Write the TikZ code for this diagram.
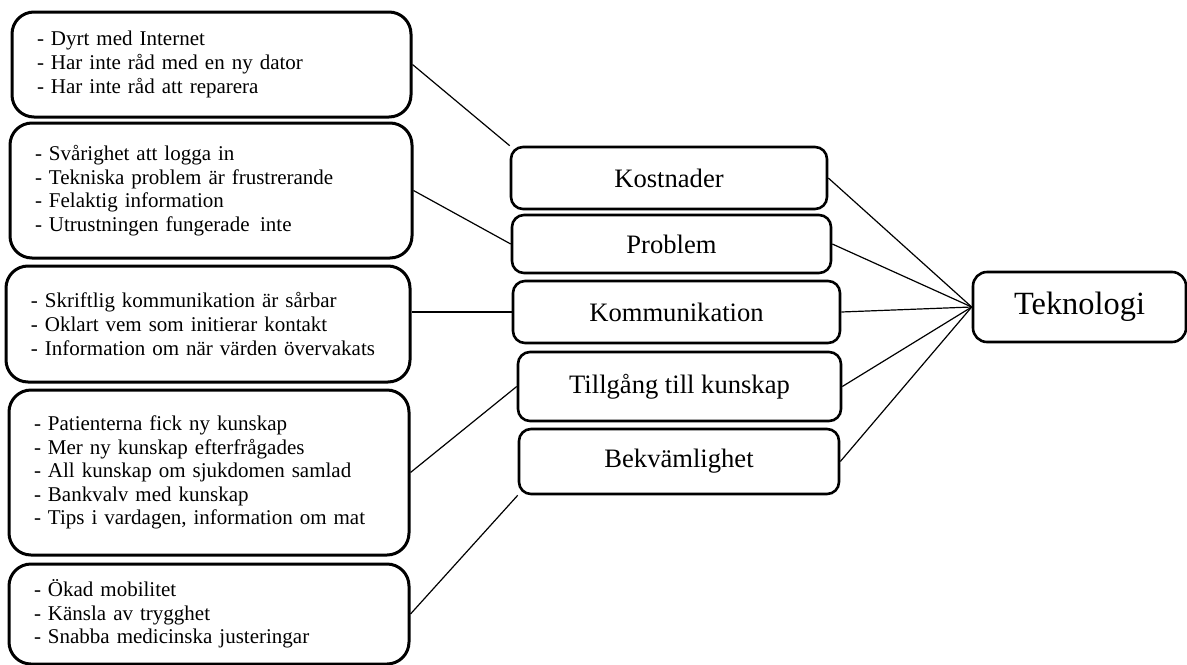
\documentclass[tikz,border=0pt]{standalone}
\usepackage{fontspec}
\setmainfont{Liberation Serif}
\usetikzlibrary{positioning}

\begin{document}
\begin{tikzpicture}[x=0.5pt,y=-0.5pt,
	leftbox/.style={draw,line width=1.5pt,rounded corners=11pt,align=left,inner xsep=12.5pt,inner ysep=0pt,font=\fontsize{10.5}{11.8}\selectfont},
	midbox/.style={draw,line width=1.3pt,rounded corners=6pt,inner sep=0pt,font=\fontsize{13.3}{15}\selectfont},
	link/.style={line width=0.6pt}]
				\useasboundingbox (0,0) rectangle (1187,664);
				% lists
				\node[leftbox,text width=174.5pt,minimum height=52.5pt] (kostlist) at (211.5,64.5) {- Dyrt med Internet\\- Har inte råd med en ny dator\\- Har inte råd att reparera};
				\node[leftbox,text width=176pt,minimum height=67.5pt] (problist) at (211,190.5) {- Svårighet att logga in\\- Tekniska problem är frustrerande\\- Felaktig information\\- Utrustningen fungerade\ \,inte};
				\node[leftbox,text width=177pt,minimum height=58pt] (kommlist) at (208,324) {- Skriftlig kommunikation är sårbar\\- Oklart vem som initierar kontakt\\- Information om när värden övervakats};
				\node[leftbox,text width=175pt,minimum height=82.5pt] (tilllist) at (209,472.5) {- Patienterna fick ny kunskap\\- Mer ny kunskap efterfrågades\\- All kunskap om sjukdomen samlad\\- Bankvalv med kunskap\\- Tips i vardagen, information om mat};
				\node[leftbox,text width=175pt,minimum height=50pt] (bekvlist) at (209,614) {- Ökad mobilitet\\- Känsla av trygghet\\- Snabba medicinska justeringar};
				% themes
				\node[midbox,minimum width=158pt,minimum height=31pt] (kost) at (669,178) {Kostnader};
				\node[midbox,minimum width=159.5pt,minimum height=29pt] (prob) at (671.5,244) {Problem};
				\node[midbox,minimum width=163.5pt,minimum height=31pt] (komm) at (676.5,312) {Kommunikation};
				\node[midbox,minimum width=161.5pt,minimum height=34.5pt] (till) at (679.5,386.5) {Tillgång till kunskap};
				\node[midbox,minimum width=160pt,minimum height=32.5pt] (bekv) at (679,461.5) {Bekvämlighet};
				\node[midbox,rounded corners=7pt,minimum width=106.5pt,minimum height=35pt,font=\fontsize{16.2}{19}\selectfont] (tekn) at (1079.5,307) {Teknologi};
				% links
				\draw[link] (kostlist.east) -- (kost.north west);
				\draw[link] (problist.east) -- (prob.west);
				\draw[link] (komm.west) -- (komm.west -| kommlist.east);
				\draw[link] (tilllist.east) -- (till.west);
				\draw[link] (bekvlist.east) -- (bekv.south west);
				\foreach \n in {kost,prob,komm,till,bekv}
				\draw[link] (\n.east) -- (tekn.west);
\end{tikzpicture}
\end{document}
